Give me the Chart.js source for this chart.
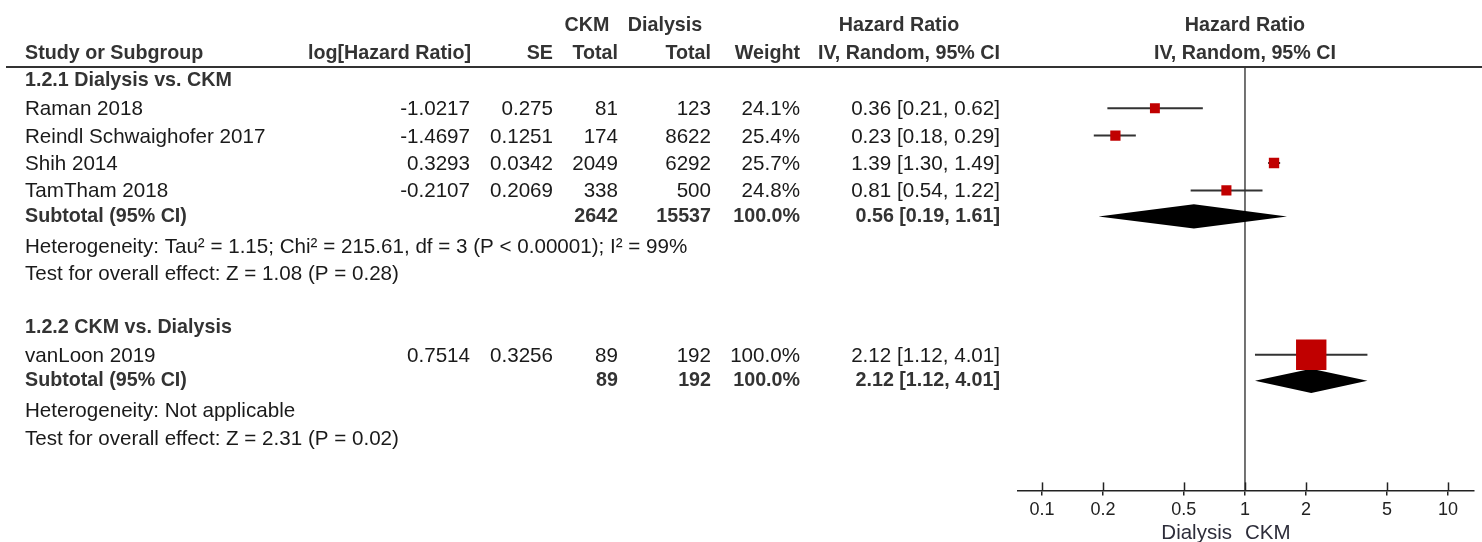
<!DOCTYPE html>
<html>
<head>
<meta charset="utf-8">
<script src="https://cdn.jsdelivr.net/npm/chart.js@4.4.1/dist/chart.umd.min.js"></script>
<style>
  html, body { margin: 0; padding: 0; background: #fff; }
  #wrap { width: 1482px; height: 542px; }
</style>
</head>
<body>
<div id="wrap"><canvas id="forest" width="1482" height="542"></canvas></div>
<script>
// study level data
const studies = ['Raman 2018', 'Reindl Schwaighofer 2017', 'Shih 2014', 'TamTham 2018', 'vanLoon 2019'];
const logHR = ['-1.0217', '-1.4697', '0.3293', '-0.2107', '0.7514'];
const seVals = ['0.275', '0.1251', '0.0342', '0.2069', '0.3256'];
const ckmTotal = [81, 174, 2049, 338, 89];
const dialysisTotal = [123, 8622, 6292, 500, 192];
const weights = [24.1, 25.4, 25.7, 24.8, 100.0];
const hr = [0.36, 0.23, 1.39, 0.81, 2.12];
const hrLow = [0.21, 0.18, 1.30, 0.54, 1.12];
const hrHigh = [0.62, 0.29, 1.49, 1.22, 4.01];

// subgroups
const groupTitles = ['1.2.1 Dialysis vs. CKM', '1.2.2 CKM vs. Dialysis'];
const groupMembers = [[0, 1, 2, 3], [4]];
const subCkm = [2642, 89];
const subDialysis = [15537, 192];
const subWeight = [100.0, 100.0];
const subHR = [0.56, 2.12];
const subLow = [0.19, 1.12];
const subHigh = [1.61, 4.01];
const heterogeneity = [
    'Heterogeneity: Tau\u00b2 = 1.15; Chi\u00b2 = 215.61, df = 3 (P < 0.00001); I\u00b2 = 99%',
    'Heterogeneity: Not applicable'
];
const overallEffect = [
    'Test for overall effect: Z = 1.08 (P = 0.28)',
    'Test for overall effect: Z = 2.31 (P = 0.02)'
];

const xTicks = [0.1, 0.2, 0.5, 1, 2, 5, 10];
const favourLeft = 'Dialysis';
const favourRight = 'CKM';

// lay out table rows (row 0/1 are the two header lines)
const titleRow = [], studyRow = [], subRow = [], hetRow = [], testRow = [];
let r = 2;
groupMembers.forEach((members, g) => {
    titleRow[g] = r++;
    members.forEach(i => { studyRow[i] = r++; });
    subRow[g] = r++;
    hetRow[g] = r++;
    testRow[g] = r++;
    r++;
});

// first row centre and row pitch in pixels
const ROW0 = 26, ROW_H = 27.4;
const FONT = '"Liberation Sans", Arial, sans-serif';
const fmt2 = v => v.toFixed(2);
const ciText = (m, lo, hi) => `${fmt2(m)} [${fmt2(lo)}, ${fmt2(hi)}]`;
const squareSide = w => 0.27 * w + 3.4;

const datasets = [];

// study squares, sized by weight
datasets.push({
    type: 'scatter',
    data: studies.map((s, i) => ({ x: hr[i], y: studyRow[i] })),
    pointStyle: 'rect',
    pointRadius: weights.map(w => squareSide(w) / Math.SQRT2),
    pointHoverRadius: weights.map(w => squareSide(w) / Math.SQRT2),
    backgroundColor: '#c00000',
    borderWidth: 0
});

// confidence interval whiskers
studies.forEach((s, i) => {
    datasets.push({
        type: 'line',
        data: [{ x: hrLow[i], y: studyRow[i] }, { x: hrHigh[i], y: studyRow[i] }],
        borderColor: '#333',
        borderWidth: 2,
        pointRadius: 0
    });
});

// pooled diamonds
subHR.forEach((m, g) => {
    const row = subRow[g] - 0.05;
    const h = 0.44;
    datasets.push({
        type: 'line',
        data: [
            { x: subLow[g], y: row },
            { x: m, y: row - h },
            { x: subHigh[g], y: row },
            { x: m, y: row + h },
            { x: subLow[g], y: row }
        ],
        borderWidth: 0,
        borderColor: '#000',
        backgroundColor: '#000',
        fill: 'shape',
        pointRadius: 0
    });
});

// line of no effect, from the header rule down to the axis
const refLine = {
    type: 'line',
    data: [{ x: 1, y: 1.5 }, { x: 1, y: 17 }],
    borderColor: '#444',
    borderWidth: 1.5,
    pointRadius: 0
};
datasets.push(refLine);

const tablePlugin = {
    id: 'forestTable',
    afterDraw(chart) {
        const { ctx, scales: { x, y }, chartArea } = chart;
        const put = (txt, px, row, align, bold) => {
            ctx.font = (bold ? 'bold 19.7px ' : '20.6px ') + FONT;
            ctx.fillStyle = bold ? '#333' : '#1a1a1a';
            ctx.textAlign = align;
            ctx.textBaseline = 'middle';
            ctx.fillText(txt, px, y.getPixelForValue(row));
        };
        ctx.save();

        // header
        put('CKM', 587, 0, 'center', true);
        put('Dialysis', 665, 0, 'center', true);
        put('Hazard Ratio', 899, 0, 'center', true);
        put('Hazard Ratio', x.getPixelForValue(1), 0, 'center', true);
        put('Study or Subgroup', 25, 1, 'left', true);
        put('log[Hazard Ratio]', 471, 1, 'right', true);
        put('SE', 553, 1, 'right', true);
        put('Total', 618, 1, 'right', true);
        put('Total', 711, 1, 'right', true);
        put('Weight', 800, 1, 'right', true);
        put('IV, Random, 95% CI', 1000, 1, 'right', true);
        put('IV, Random, 95% CI', x.getPixelForValue(1), 1, 'center', true);

        ctx.strokeStyle = '#333';
        ctx.lineWidth = 2;
        ctx.beginPath();
        const hy = Math.round(y.getPixelForValue(1.5));
        ctx.moveTo(6, hy);
        ctx.lineTo(chart.width, hy);
        ctx.stroke();

        groupMembers.forEach((members, g) => {
            put(groupTitles[g], 25, titleRow[g], 'left', true);
            members.forEach(i => {
                const row = studyRow[i] + 0.05;
                put(studies[i], 25, row, 'left', false);
                put(logHR[i], 470, row, 'right', false);
                put(seVals[i], 553, row, 'right', false);
                put(String(ckmTotal[i]), 618, row, 'right', false);
                put(String(dialysisTotal[i]), 711, row, 'right', false);
                put(weights[i].toFixed(1) + '%', 800, row, 'right', false);
                put(ciText(hr[i], hrLow[i], hrHigh[i]), 1000, row, 'right', false);
            });
            const sr = subRow[g] - 0.05;
            put('Subtotal (95% CI)', 25, sr, 'left', true);
            put(String(subCkm[g]), 618, sr, 'right', true);
            put(String(subDialysis[g]), 711, sr, 'right', true);
            put(subWeight[g].toFixed(1) + '%', 800, sr, 'right', true);
            put(ciText(subHR[g], subLow[g], subHigh[g]), 1000, sr, 'right', true);
            put(heterogeneity[g], 25, hetRow[g] + 0.07, 'left', false);
            put(overallEffect[g], 25, testRow[g] + 0.07, 'left', false);
        });

        // upper half of the axis tick crosses
        ctx.strokeStyle = '#222';
        ctx.lineWidth = 1.5;
        xTicks.forEach(v => {
            const px = Math.round(x.getPixelForValue(v)) + 0.5;
            ctx.beginPath();
            ctx.moveTo(px, chartArea.bottom - 8);
            ctx.lineTo(px, chartArea.bottom);
            ctx.stroke();
        });

        // favours labels
        ctx.font = '20.5px ' + FONT;
        ctx.fillStyle = '#2d2d3a';
        ctx.textBaseline = 'middle';
        const x1 = x.getPixelForValue(1);
        ctx.textAlign = 'right';
        ctx.fillText(favourLeft, x1 - 13, 533);
        ctx.textAlign = 'left';
        ctx.fillText(favourRight, x1, 533);
        ctx.restore();
    }
};

const chart = new Chart(document.getElementById('forest'), {
    type: 'scatter',
    data: { datasets },
    options: {
        responsive: false,
        devicePixelRatio: 1,
        animation: false,
        events: [],
        layout: { autoPadding: false, padding: { left: 1018, right: 8, top: 0, bottom: 17 } },
        plugins: { legend: { display: false }, tooltip: { enabled: false } },
        scales: {
            x: {
                type: 'logarithmic',
                position: 'bottom',
                min: 0.0762,
                max: 13.43,
                afterBuildTicks: s => { s.ticks = xTicks.map(v => ({ value: v })); },
                ticks: {
                    autoSkip: false,
                    maxRotation: 0,
                    padding: 4,
                    color: '#222',
                    font: { family: FONT, size: 18 },
                    callback: v => String(v)
                },
                grid: { drawOnChartArea: false, drawTicks: true, tickLength: 5, color: '#222', lineWidth: 1.5 },
                border: { display: true, color: '#222', width: 1.5 }
            },
            y: {
                type: 'linear',
                display: false,
                reverse: true,
                min: -0.95,
                max: 17
            }
        }
    },
    plugins: [tablePlugin]
});

// fit the row scale to the laid out chart area so row r sits at ROW0 + r * ROW_H
const area = chart.chartArea;
chart.options.scales.y.min = (area.top - ROW0) / ROW_H;
chart.options.scales.y.max = (area.bottom - ROW0) / ROW_H;
refLine.data[1].y = chart.options.scales.y.max;
chart.update();
</script>
</body>
</html>
